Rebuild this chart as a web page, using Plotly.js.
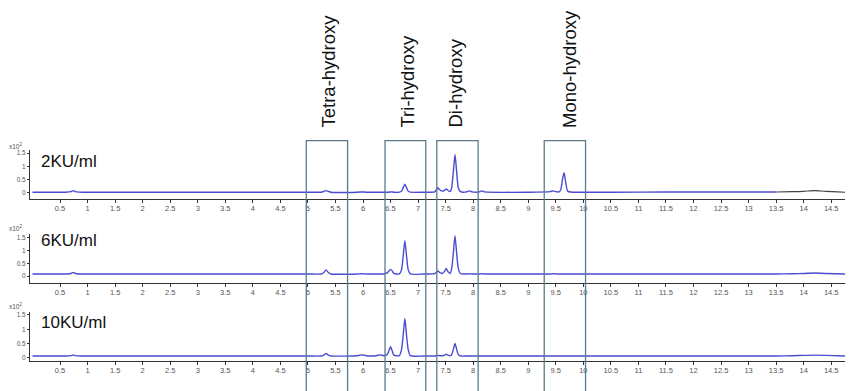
<!DOCTYPE html>
<html><head><meta charset="utf-8">
<script src="https://cdn.plot.ly/plotly-3.0.1.min.js"></script>
<style>html,body{margin:0;padding:0;background:#fff}#chart{width:849px;height:391px}</style>
</head><body><div id="chart"></div>
<script>
// Retention time (min), shared by the three chromatograms
const retentionTime = [0, 0.6, 0.7, 0.74, 0.78, 0.9, 2, 3, 4, 5,
  5.24, 5.29, 5.33, 5.37, 5.42,
  5.9, 5.98, 6.06, 6.24, 6.31, 6.38, 6.44, 6.47, 6.5, 6.53, 6.56,
  6.66, 6.7, 6.73, 6.76, 6.79, 6.82, 6.86,
  7.1, 7.3, 7.33, 7.36, 7.39, 7.44, 7.48, 7.51, 7.54, 7.58,
  7.61, 7.64, 7.67, 7.70, 7.73, 7.77,
  7.88, 7.93, 7.98, 8.11, 8.16, 8.21,
  9.0, 9.4, 9.45, 9.5, 9.56, 9.59, 9.62, 9.65, 9.68, 9.72,
  10.0, 10.5, 11.5, 12.5, 13.5, 13.8, 14.0, 14.2, 14.4, 14.75];

// Signal (x10^2) for each enzyme dose
const signal2KU = [0.03, 0.03, 0.05, 0.09, 0.05, 0.03, 0.03, 0.03, 0.03, 0.03,
  0.03, 0.06, 0.09, 0.06, 0.03,
  0.03, 0.04, 0.03, 0.03, 0.03, 0.03, 0.03, 0.03, 0.04, 0.04, 0.03,
  0.03, 0.07, 0.2, 0.33, 0.2, 0.07, 0.03,
  0.03, 0.04, 0.12, 0.2, 0.12, 0.07, 0.1, 0.15, 0.1, 0.05,
  0.2, 0.8, 1.45, 0.8, 0.2, 0.05,
  0.04, 0.08, 0.04, 0.04, 0.08, 0.04,
  0.03, 0.05, 0.08, 0.05, 0.04, 0.12, 0.5, 0.76, 0.4, 0.06,
  0.03, 0.03, 0.035, 0.04, 0.04, null, null, null, null, null];
const signal6KU = [0.08, 0.08, 0.1, 0.14, 0.1, 0.08, 0.08, 0.08, 0.08, 0.08,
  0.08, 0.14, 0.24, 0.14, 0.08,
  0.08, 0.09, 0.08, 0.08, 0.08, 0.09, 0.12, 0.2, 0.26, 0.2, 0.1,
  0.08, 0.25, 0.8, 1.39, 0.8, 0.25, 0.08,
  0.08, 0.09, 0.14, 0.2, 0.14, 0.1, 0.18, 0.3, 0.18, 0.1,
  0.3, 0.9, 1.59, 0.9, 0.3, 0.09,
  0.08, 0.09, 0.08, 0.08, 0.09, 0.08,
  0.08, 0.08, 0.09, 0.08, 0.08, 0.08, 0.08, 0.08, 0.08, 0.08,
  0.08, 0.08, 0.08, 0.08, 0.08, 0.09, 0.1, 0.12, 0.1, 0.08];
const signal10KU = [0.07, 0.07, 0.08, 0.11, 0.08, 0.07, 0.07, 0.07, 0.07, 0.07,
  0.07, 0.1, 0.16, 0.1, 0.07,
  0.08, 0.11, 0.08, 0.08, 0.11, 0.08, 0.12, 0.25, 0.39, 0.25, 0.1,
  0.08, 0.3, 0.8, 1.38, 0.8, 0.3, 0.08,
  0.07, 0.07, 0.08, 0.09, 0.08, 0.08, 0.1, 0.13, 0.1, 0.08,
  0.12, 0.3, 0.51, 0.3, 0.12, 0.07,
  0.07, 0.07, 0.07, 0.07, 0.07, 0.07,
  0.07, 0.07, 0.07, 0.07, 0.07, 0.07, 0.07, 0.07, 0.07, 0.07,
  0.07, 0.07, 0.07, 0.07, 0.07, 0.08, 0.09, 0.1, 0.09, 0.07];
// End of the 2KU/ml run, drawn in grey
const tailTime2KU = [13.5, 13.8, 14.0, 14.2, 14.4, 14.75];
const tailSignal2KU = [0.04, 0.05, 0.06, 0.09, 0.06, 0.03];

const panelLabels = ['2KU/ml', '6KU/ml', '10KU/ml'];
const fractionNames = ['Tetra-hydroxy', 'Tri-hydroxy', 'Di-hydroxy', 'Mono-hydroxy'];
const fractionStart = [4.97, 6.40, 7.34, 9.29];
const fractionEnd = [5.72, 7.14, 8.09, 10.04];

const xTickVals = [0.5,1,1.5,2,2.5,3,3.5,4,4.5,5,5.5,6,6.5,7,7.5,8,8.5,9,9.5,10,10.5,11,11.5,12,12.5,13,13.5,14,14.5];
const xTickText = ['0.5','1','1.5','2','2.5','3','3.5','4','4.5','5','5.5','6','6.5','7','7.5','8','8.5','9','9.5','10','10.5','11','11.5','12','12.5','13','13.5','14','14.5'];
const yTickVals = [0, 0.5, 1, 1.5];
const yTickText = ['0', '0.5', '1', '1.5'];

// ---- layout (pixel geometry) ----
const W = 849, H = 391;
const px = v => v / W, py = v => 1 - v / H;
const plotLeft = 30, plotRight = 845;
const xRange = [-0.045, 14.75];
const panels = [
  {top: 150.4, bottom: 198.5, range: [-0.207, 1.6], label: 161, exp: 146},
  {top: 234.0, bottom: 282.5, range: [-0.256, 1.654], label: 241, exp: 228},
  {top: 312.0, bottom: 361.0, range: [-0.105, 1.603], label: 322.5, exp: 306}
];
const series = [signal2KU, signal6KU, signal10KU];
const traceColor = '#4b4bd2';
const font = 'Liberation Sans, Arial, sans-serif';

const data = [];
const layout = {
  width: W, height: H, margin: {l: 0, r: 0, t: 0, b: 0},
  paper_bgcolor: '#fff', plot_bgcolor: 'rgba(0,0,0,0)',
  showlegend: false, font: {family: font},
  annotations: [], shapes: []
};

panels.forEach((p, i) => {
  const s = i === 0 ? '' : String(i + 1);
  data.push({
    type: 'scatter', mode: 'lines', x: retentionTime, y: series[i],
    xaxis: 'x' + s, yaxis: 'y' + s,
    line: {color: traceColor, width: 1.4, shape: 'spline', smoothing: 0.6},
    connectgaps: false, hoverinfo: 'skip'
  });
  layout['xaxis' + s] = {
    domain: [px(plotLeft), px(plotRight)], range: xRange, anchor: 'y' + s,
    showline: true, linecolor: '#333', linewidth: 1, showgrid: false, zeroline: false,
    ticks: 'outside', ticklen: 3, tickcolor: '#333', tickwidth: 1,
    ticklabelstandoff: -1,
    tickvals: xTickVals, ticktext: xTickText,
    tickfont: {size: 7.5, color: '#555', family: font}
  };
  layout['yaxis' + s] = {
    domain: [py(p.bottom), py(p.top)], range: p.range, anchor: 'x' + s,
    showline: true, linecolor: '#333', linewidth: 1, showgrid: false, zeroline: false,
    ticks: 'outside', ticklen: 2, tickcolor: '#333',
    tickvals: yTickVals, ticktext: yTickText,
    tickfont: {size: 6.5, color: '#555', family: font}
  };
  layout.annotations.push({
    xref: 'paper', yref: 'paper', x: px(39), y: py(p.label), xanchor: 'left', yanchor: 'middle',
    text: panelLabels[i], showarrow: false, font: {size: 17, color: '#111', family: font}
  });
  layout.annotations.push({
    xref: 'paper', yref: 'paper', x: px(16), y: py(p.exp), xanchor: 'center', yanchor: 'middle',
    text: 'x10<sup>2</sup>', showarrow: false, font: {size: 6.5, color: '#555', family: font}
  });
});

data.push({
  type: 'scatter', mode: 'lines', x: tailTime2KU, y: tailSignal2KU,
  xaxis: 'x', yaxis: 'y', line: {color: '#444', width: 1.1, shape: 'spline', smoothing: 0.6},
  hoverinfo: 'skip'
});

const labelX = [328, 407, 455, 570];
fractionNames.forEach((name, k) => {
  layout.shapes.push({
    type: 'rect', xref: 'x', yref: 'paper',
    x0: fractionStart[k], x1: fractionEnd[k], y0: py(392), y1: py(140.7),
    line: {color: '#5b7b8c', width: 1.3}, fillcolor: 'rgba(0,0,0,0)', layer: 'above'
  });
  layout.annotations.push({
    xref: 'paper', yref: 'paper', x: px(labelX[k]), y: py(130),
    xanchor: 'center', yanchor: 'bottom', textangle: -90,
    text: name, showarrow: false, font: {size: 18.5, color: '#111', family: font}
  });
});

Plotly.newPlot('chart', data, layout, {staticPlot: true, displayModeBar: false});
</script>
</body></html>
